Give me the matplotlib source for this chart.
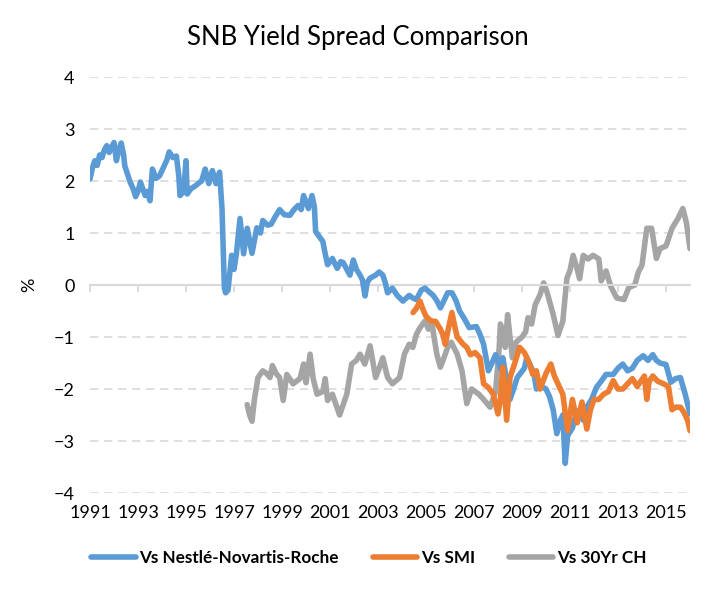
import matplotlib
matplotlib.use('Agg')
import matplotlib.pyplot as plt
import numpy as np

plt.rcParams['font.family'] = ['Lato', 'DejaVu Sans']

# Vs Nestle-Novartis-Roche
blue_t = [1991.0, 1991.1, 1991.2, 1991.3, 1991.4, 1991.5, 1991.6, 1991.7, 1991.8, 1991.9,
          1992.0, 1992.1, 1992.2, 1992.3, 1992.4, 1992.45, 1992.55, 1992.67, 1992.8, 1992.9,
          1993.0, 1993.1, 1993.2, 1993.3, 1993.4, 1993.5, 1993.6, 1993.75, 1993.9, 1994.0,
          1994.1, 1994.2, 1994.3, 1994.45, 1994.6, 1994.7, 1994.75, 1994.9, 1995.0, 1995.05,
          1995.2, 1995.4, 1995.5, 1995.65, 1995.8, 1995.95, 1996.1, 1996.25, 1996.4, 1996.5,
          1996.6, 1996.65, 1996.75, 1996.9, 1997.0, 1997.1, 1997.25, 1997.4, 1997.55, 1997.65,
          1997.75, 1997.95, 1998.1, 1998.2, 1998.4, 1998.55, 1998.7, 1998.9, 1999.1, 1999.33,
          1999.5, 1999.67, 1999.8, 1999.9, 2000.1, 2000.25, 2000.35, 2000.4, 2000.6, 2000.7,
          2000.8, 2000.9, 2001.1, 2001.3, 2001.45, 2001.55, 2001.7, 2001.83, 2001.97, 2002.1,
          2002.25, 2002.35, 2002.46, 2002.55, 2002.67, 2002.9, 2003.05, 2003.2, 2003.3, 2003.4,
          2003.6, 2003.8, 2004.04, 2004.3, 2004.45, 2004.6, 2004.8, 2004.96, 2005.1, 2005.3,
          2005.45, 2005.6, 2005.75, 2005.9, 2006.08, 2006.25, 2006.4, 2006.6, 2006.8, 2007.1,
          2007.25, 2007.4, 2007.6, 2007.75, 2007.9, 2008.1, 2008.2, 2008.35, 2008.5, 2008.65,
          2008.8, 2009.1, 2009.2, 2009.35, 2009.5, 2009.6, 2009.8, 2010.0, 2010.15, 2010.3,
          2010.45, 2010.6, 2010.7, 2010.8, 2010.9, 2011.1, 2011.25, 2011.4, 2011.55, 2011.7,
          2011.9, 2012.1, 2012.3, 2012.5, 2012.8, 2013.0, 2013.2, 2013.4, 2013.6, 2013.8,
          2014.05, 2014.25, 2014.45, 2014.6, 2014.75, 2015.0, 2015.2, 2015.4, 2015.6, 2015.8,
          2016.0]
blue_v = [2.04, 2.25, 2.39, 2.3, 2.5, 2.45, 2.6, 2.68, 2.55, 2.65,
          2.74, 2.39, 2.6, 2.73, 2.5, 2.29, 2.15, 1.98, 1.85, 1.70,
          1.8, 1.98, 1.85, 1.72, 1.8, 1.62, 2.23, 2.05, 2.10, 2.2,
          2.3, 2.4, 2.56, 2.45, 2.48, 2.1, 1.72, 1.8, 2.39, 1.75,
          1.85, 1.91, 1.95, 2.0, 2.23, 1.95, 2.2, 1.95, 2.17, 1.47,
          -0.06, -0.15, -0.1, 0.57, 0.3, 0.6, 1.28, 0.6, 1.09, 0.85,
          0.61, 1.1, 1.0, 1.24, 1.15, 1.17, 1.3, 1.45, 1.35, 1.34,
          1.45, 1.53, 1.45, 1.72, 1.47, 1.72, 1.5, 1.03, 0.9, 0.84,
          0.6, 0.39, 0.51, 0.32, 0.45, 0.43, 0.3, 0.19, 0.48, 0.3,
          0.19, 0.1, -0.21, 0.05, 0.13, 0.19, 0.25, 0.19, 0.05, -0.15,
          -0.06, -0.2, -0.31, -0.2, -0.25, -0.28, -0.1, -0.06, -0.12, -0.2,
          -0.3, -0.44, -0.3, -0.15, -0.15, -0.3, -0.5, -0.65, -0.82, -0.8,
          -0.95, -1.14, -1.65, -1.5, -1.34, -1.6, -1.4, -1.8, -2.2, -2.0,
          -1.78, -1.6, -1.4, -1.55, -1.7, -2.0, -1.95, -2.0, -2.15, -2.4,
          -2.86, -2.6, -2.5, -3.43, -2.9, -2.75, -2.5, -2.4, -2.6, -2.35,
          -2.2, -1.97, -1.85, -1.72, -1.72, -1.6, -1.52, -1.65, -1.6, -1.45,
          -1.36, -1.45, -1.34, -1.45, -1.5, -1.53, -1.87, -1.8, -1.78, -2.1,
          -2.48]

# Vs SMI
smi_t = [2004.46, 2004.6, 2004.75, 2004.9, 2005.0, 2005.2, 2005.4, 2005.6, 2005.7, 2005.8,
         2005.95, 2006.08, 2006.2, 2006.3, 2006.55, 2006.7, 2006.85, 2007.05, 2007.25, 2007.4,
         2007.6, 2007.8, 2008.0, 2008.1, 2008.2, 2008.36, 2008.5, 2008.7, 2008.9, 2009.1,
         2009.3, 2009.45, 2009.6, 2009.75, 2010.0, 2010.2, 2010.35, 2010.5, 2010.7, 2010.9,
         2011.1, 2011.3, 2011.5, 2011.7, 2011.85, 2012.0, 2012.2, 2012.4, 2012.6, 2012.8,
         2013.0, 2013.2, 2013.4, 2013.6, 2013.8, 2014.1, 2014.2, 2014.3, 2014.45, 2014.65,
         2014.9, 2015.1, 2015.25, 2015.4, 2015.6, 2015.75, 2015.9, 2016.0]
smi_v = [-0.53, -0.45, -0.31, -0.5, -0.6, -0.69, -0.7, -0.85, -0.95, -1.14,
         -0.8, -0.53, -0.8, -1.0, -1.14, -1.2, -1.34, -1.3, -1.4, -1.9,
         -1.97, -2.1, -2.48, -2.2, -1.58, -2.6, -1.78, -1.5, -1.2, -1.3,
         -1.5, -1.72, -1.65, -2.0, -1.7, -1.52, -1.75, -1.9, -2.1, -2.8,
         -2.2, -2.65, -2.25, -2.77, -2.4, -2.2, -2.2, -2.1, -2.05, -1.84,
         -2.0, -2.0, -1.9, -1.8, -1.95, -1.75, -2.2, -1.85, -1.75, -1.85,
         -1.9, -1.95, -2.4, -2.35, -2.35, -2.45, -2.6, -2.8]

# Vs 30Yr CH
ch_t = [1997.55, 1997.65, 1997.75, 1997.85, 1998.0, 1998.2, 1998.35, 1998.5, 1998.6, 1998.75,
        1998.9, 1999.05, 1999.2, 1999.46, 1999.6, 1999.75, 1999.9, 2000.0, 2000.17, 2000.3,
        2000.46, 2000.7, 2000.8, 2000.9, 2001.1, 2001.25, 2001.4, 2001.55, 2001.7, 2001.9,
        2002.1, 2002.25, 2002.45, 2002.67, 2002.9, 2003.05, 2003.2, 2003.4, 2003.6, 2003.9,
        2004.1, 2004.3, 2004.45, 2004.6, 2004.75, 2004.96, 2005.1, 2005.25, 2005.45, 2005.6,
        2005.75, 2005.9, 2006.05, 2006.3, 2006.5, 2006.7, 2006.9, 2007.2, 2007.4, 2007.67,
        2007.9, 2008.05, 2008.1, 2008.2, 2008.3, 2008.4, 2008.5, 2008.6, 2008.75, 2009.0,
        2009.15, 2009.25, 2009.4, 2009.55, 2009.75, 2009.9, 2010.05, 2010.3, 2010.5, 2010.7,
        2010.87, 2011.0, 2011.13, 2011.3, 2011.4, 2011.55, 2011.75, 2011.96, 2012.2, 2012.3,
        2012.5, 2012.7, 2012.95, 2013.25, 2013.45, 2013.7, 2013.85, 2014.0, 2014.2, 2014.4,
        2014.6, 2014.75, 2015.0, 2015.25, 2015.5, 2015.7, 2015.85, 2016.0]
ch_v = [-2.3, -2.5, -2.62, -2.2, -1.78, -1.65, -1.7, -1.78, -1.55, -1.7,
        -1.78, -2.22, -1.72, -1.9, -1.85, -1.8, -1.52, -1.88, -1.33, -1.8,
        -2.1, -2.05, -1.8, -2.22, -2.1, -2.3, -2.5, -2.3, -2.1, -1.52,
        -1.45, -1.33, -1.52, -1.17, -1.78, -1.6, -1.4, -1.78, -1.9, -1.78,
        -1.33, -1.14, -1.2, -0.95, -0.82, -0.69, -0.85, -0.75, -1.33, -1.58,
        -1.4, -1.2, -1.1, -1.33, -1.65, -2.28, -2.0, -2.1, -2.2, -2.35,
        -2.05, -1.2, -0.75, -0.9, -1.2, -0.57, -1.0, -1.4, -1.1, -1.0,
        -0.9, -0.63, -0.75, -0.38, -0.19, 0.04, -0.15, -0.57, -0.97, -0.7,
        0.13, 0.28, 0.57, 0.3, 0.12, 0.57, 0.5, 0.57, 0.5, 0.08,
        0.27, -0.03, -0.25, -0.28, -0.05, 0.0, 0.25, 0.38, 1.09, 1.09,
        0.51, 0.7, 0.75, 1.09, 1.28, 1.47, 1.2, 0.7]

year_ticks = list(range(1991, 2016, 2))

fig = plt.figure(figsize=(7.12, 5.9), dpi=100)
ax = fig.add_axes([90 / 712, 1 - 493 / 590, 600 / 712, 416 / 590])

grid_c = '#D9D9D9'
for yv in [-4, -3, -2, -1, 1, 2, 3, 4]:
    ax.axhline(yv, color=grid_c, lw=1.2, ls=(0, (5, 3.4)), zorder=0)
# solid zero line
ax.axhline(0, color=grid_c, lw=1.5, zorder=1)

ax.plot(blue_t, blue_v, color='#5B9BD5', lw=4.0, solid_joinstyle='round',
        solid_capstyle='round', label='Vs Nestlé-Novartis-Roche', zorder=3)
ax.plot(smi_t, smi_v, color='#ED7D31', lw=4.0, solid_joinstyle='round',
        solid_capstyle='round', label='Vs SMI', zorder=4)
ax.plot(ch_t, ch_v, color='#A5A5A5', lw=4.0, solid_joinstyle='round',
        solid_capstyle='round', label='Vs 30Yr CH', zorder=2)

ax.set_xlim(1991, 2016)
ax.set_ylim(-4, 4)
for s in ['top', 'right', 'left']:
    ax.spines[s].set_visible(False)

# horizontal axis sits at zero, with small tick marks pointing down
ax.spines['bottom'].set_position(('data', 0))
ax.spines['bottom'].set_color(grid_c)
ax.spines['bottom'].set_linewidth(1.5)
ax.set_xticks(year_ticks)
ax.tick_params(axis='x', length=5, width=1.3, color=grid_c, direction='out',
               labelbottom=False)

ax.set_yticks(range(-4, 5))
ax.tick_params(axis='y', length=0, pad=11, labelsize=13, labelcolor='#000000')

# year labels along the bottom edge
lab = ax.secondary_xaxis('bottom')
lab.set_xticks(year_ticks)
lab.set_xticklabels([str(y) for y in year_ticks])
lab.tick_params(axis='x', length=0, pad=9, labelsize=13)
for s in lab.spines.values():
    s.set_visible(False)

ax.set_ylabel('%', fontsize=13, labelpad=12)

fig.text(0.503, 1 - 38 / 590, 'SNB Yield Spread Comparison', ha='center', va='center',
         fontsize=18.5)

fig.legend(loc='center', bbox_to_anchor=(0.518, 1 - 558 / 590), ncol=3, frameon=False,
           prop={'weight': 'bold', 'size': 12.3}, handlelength=2.6, columnspacing=2.0,
           handletextpad=0.2)

fig.savefig('out.png', dpi=100)
